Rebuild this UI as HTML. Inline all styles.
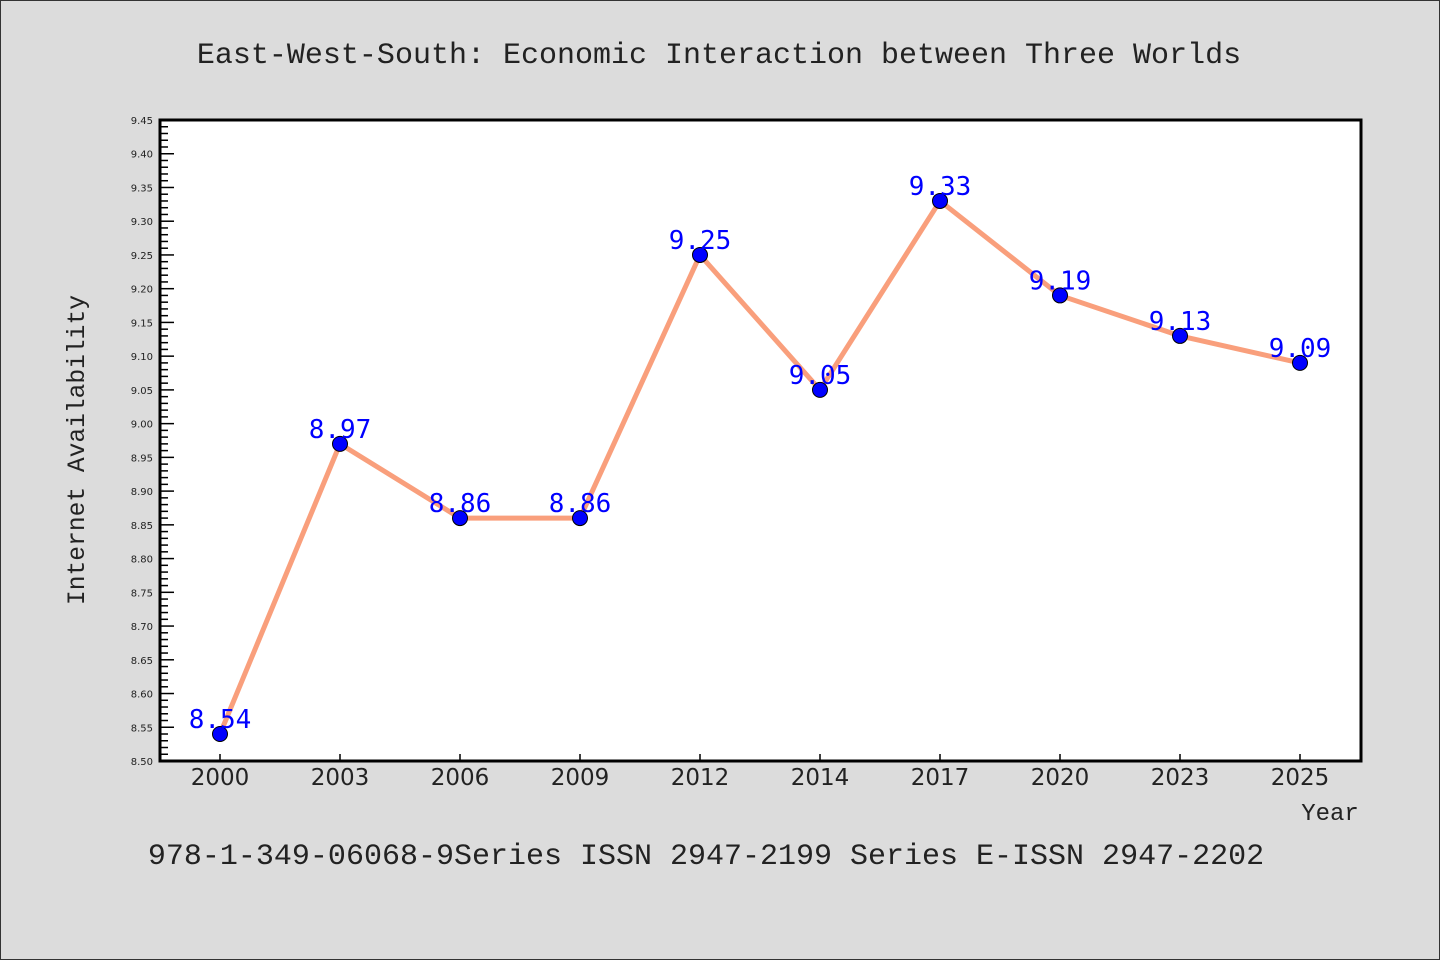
<!DOCTYPE html>
<html><head><meta charset="utf-8"><style>
html,body{margin:0;padding:0;background:#dcdcdc;}
svg{display:block;}
</style></head><body>
<svg id="chart" width="1440" height="960" xmlns="http://www.w3.org/2000/svg">
<rect x="0.5" y="0.5" width="1439" height="959" fill="#dcdcdc" stroke="#333" stroke-width="1"/>
<text x="719" y="63" text-anchor="middle" font-family="Liberation Mono, monospace" font-size="30" fill="#222">East-West-South: Economic Interaction between Three Worlds</text>
<rect x="160" y="120" width="1201" height="641" fill="#fff"/>
<g id="yaxis"></g>
<g id="xaxis"></g>
<g id="series"></g>
<rect x="160" y="120" width="1201" height="641" fill="none" stroke="#000" stroke-width="3"/>
<text transform="translate(84,450) rotate(-90)" text-anchor="middle" font-family="Liberation Mono, monospace" font-size="24.6" fill="#222">Internet Availability</text>
<text x="1330" y="820" text-anchor="middle" font-family="Liberation Mono, monospace" font-size="24" fill="#222">Year</text>
<text x="706" y="864" text-anchor="middle" font-family="Liberation Mono, monospace" font-size="30" fill="#222">978-1-349-06068-9Series ISSN 2947-2199 Series E-ISSN 2947-2202</text>
</svg>
<script>
const categories = ["2000","2003","2006","2009","2012","2014","2017","2020","2023","2025"];
const values = [8.54, 8.97, 8.86, 8.86, 9.25, 9.05, 9.33, 9.19, 9.13, 9.09];
const valueLabels = ["8.54","8.97","8.86","8.86","9.25","9.05","9.33","9.19","9.13","9.09"];
const yTickLabels = ["8.50","8.55","8.60","8.65","8.70","8.75","8.80","8.85","8.90","8.95","9.00","9.05","9.10","9.15","9.20","9.25","9.30","9.35","9.40","9.45"];
const yMin = 8.50, yMax = 9.45;
const NS = "http://www.w3.org/2000/svg";
const pLeft = 160, pRight = 1361, pTop = 120, pBottom = 761;
function yScale(v){ return pBottom - (v - yMin) / (yMax - yMin) * (pBottom - pTop); }
function xScale(i){ return 220 + i * 120; }
function mk(tag, attrs, parent){ const e = document.createElementNS(NS, tag); for (const k in attrs) e.setAttribute(k, attrs[k]); parent.appendChild(e); return e; }
const ya = document.getElementById('yaxis');
const nMinor = Math.round((yMax - yMin) / 0.01);
for (let j = 0; j <= nMinor; j++) {
  const v = yMin + j * 0.01;
  const y = yScale(v);
  const major = j % 5 === 0;
  const t = mk('line', {x1: pLeft, x2: pLeft + (major ? 14 : 8), y1: y, y2: y, stroke: '#000', 'stroke-width': 1.5}, ya);
  
  
}
yTickLabels.forEach(function(lbl){
  const y = yScale(parseFloat(lbl));
  const t = mk('text', {x: 153, y: y + 4, 'text-anchor': 'end', 'font-family': 'DejaVu Sans, sans-serif', 'font-size': 10, fill: '#222'}, ya);
  t.textContent = lbl;
  
  
});
const xa = document.getElementById('xaxis');
categories.forEach(function(c, i){
  const x = xScale(i);
  const tk = mk('line', {x1: x, x2: x, y1: pBottom, y2: pBottom - 7, stroke: '#000', 'stroke-width': 1.5}, xa);
  
  
  const t = mk('text', {x: x, y: 785, 'text-anchor': 'middle', 'font-family': 'DejaVu Sans, sans-serif', 'font-size': 23, fill: '#222'}, xa);
  t.textContent = c;
  
  
});
const s = document.getElementById('series');
const pts = values.map(function(v, i){ return xScale(i) + ',' + yScale(v); }).join(' ');
const line = mk('polyline', {points: pts, fill: 'none', stroke: '#f99f7c', 'stroke-width': 5, 'stroke-linejoin': 'round'}, s);


values.forEach(function(v, i){
  const x = xScale(i), y = yScale(v);
  const c = mk('circle', {cx: x, cy: y, r: 7.5, fill: '#0000ff', stroke: '#000', 'stroke-width': 1}, s);
  
  
  const t = mk('text', {x: x, y: y - 6, 'text-anchor': 'middle', 'font-family': 'DejaVu Sans Mono, monospace', 'font-size': 26, fill: '#0000ff'}, s);
  t.textContent = valueLabels[i];
  
  
});
</script>
</body></html>
